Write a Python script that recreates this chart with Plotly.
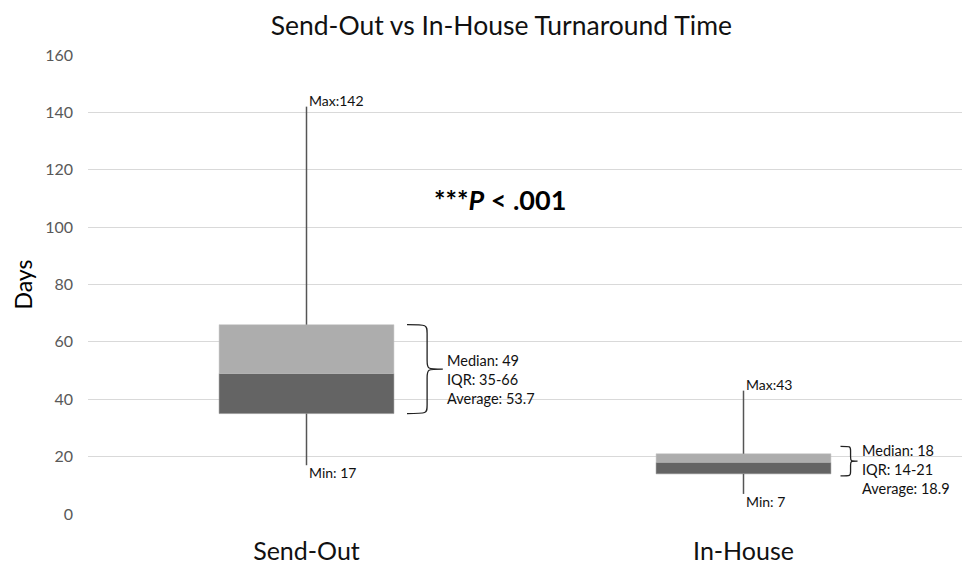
import plotly.graph_objects as go

categories = ["Send-Out", "In-House"]
mins = [17, 7]
q1s = [35, 14]
medians = [49, 18]
q3s = [66, 21]
maxs = [142, 43]
averages = [53.7, 18.9]
y_ticks = [0, 20, 40, 60, 80, 100, 120, 140, 160]
p_text = "***<i>P</i> < .001"

FONT = "Lato, Carlito, 'Open Sans', sans-serif"
xs = list(range(len(categories)))

fig = go.Figure()
# boxes: dark Q1->median, light median->Q3
fig.add_trace(go.Bar(x=xs, y=[m - q for m, q in zip(medians, q1s)], base=q1s,
                     width=0.4, marker=dict(color="#646464", line=dict(color="#8a8a8a", width=0.5)),
                     showlegend=False, hoverinfo="skip"))
fig.add_trace(go.Bar(x=xs, y=[q3 - m for q3, m in zip(q3s, medians)], base=medians,
                     width=0.4, marker=dict(color="#adadad", line=dict(color="#c0c0c0", width=0.5)),
                     showlegend=False, hoverinfo="skip"))

# whiskers
wx, wy = [], []
for i in xs:
    wx += [i, i, None, i, i, None]
    wy += [maxs[i], q3s[i], None, q1s[i], mins[i], None]
fig.add_trace(go.Scatter(x=wx, y=wy, mode="lines", line=dict(color="#555555", width=1.5),
                         showlegend=False, hoverinfo="skip"))

annotations = []
for i in xs:
    annotations.append(dict(x=i, y=maxs[i], xref="x", yref="y", text=f"Max:{maxs[i]}",
                            xanchor="left", yanchor="bottom", xshift=0, yshift=-4,
                            showarrow=False, font=dict(family=FONT, size=14, color="#111111")))
    annotations.append(dict(x=i, y=mins[i], xref="x", yref="y", text=f"Min: {mins[i]}",
                            xanchor="left", yanchor="top", xshift=0, yshift=3,
                            showarrow=False, font=dict(family=FONT, size=14, color="#111111")))

# braces
brace_cfg = [
    dict(x0=0.23, xv=0.276, xt=0.312, pad_lo=0, pad_hi=0, r=3.0, tshift=-10),
    dict(x0=0.222, xv=0.245, xt=0.261, pad_lo=0.7, pad_hi=2.6, r=1.5, tshift=-8),
]
shapes = []
for i, cfg in enumerate(brace_cfg):
    y0 = q1s[i] - cfg["pad_lo"]
    y1 = q3s[i] + cfg["pad_hi"]
    ym = (y0 + y1) / 2
    r = cfg["r"]
    X0, XV, XT = i + cfg["x0"], i + cfg["xv"], i + cfg["xt"]
    path = (f"M {X0},{y1} C {XV},{y1} {XV},{y1} {XV},{y1 - r} "
            f"L {XV},{ym + r} C {XV},{ym} {XV},{ym} {XT},{ym} "
            f"C {XV},{ym} {XV},{ym} {XV},{ym - r} "
            f"L {XV},{y0 + r} C {XV},{y0} {XV},{y0} {X0},{y0}")
    shapes.append(dict(type="path", path=path, xref="x", yref="y",
                       line=dict(color="#222222", width=1.3)))
    annotations.append(dict(x=XT, y=ym, xref="x", yref="y",
                            text=f"Median: {medians[i]}<br>IQR: {q1s[i]}-{q3s[i]}<br>Average: {averages[i]}",
                            xanchor="left", yanchor="middle", align="left", xshift=2, yshift=cfg["tshift"],
                            showarrow=False, font=dict(family=FONT, size=14.5, color="#111111")))

annotations.append(dict(x=0.443, y=109.5, xref="x", yref="y", text=f"<b>{p_text}</b>",
                        showarrow=False, font=dict(family=FONT, size=27, color="#000000")))

fig.update_layout(
    width=964, height=564,
    margin=dict(l=88, r=2, t=55, b=50, autoexpand=False),
    paper_bgcolor="white", plot_bgcolor="white",
    barmode="overlay",
    title=dict(text="Send-Out vs In-House Turnaround Time", x=0.52, xanchor="center",
               y=0.955, yanchor="middle", automargin=False,
               font=dict(family=FONT, size=26.5, color="#111111")),
    xaxis=dict(range=[-0.5, 1.5], tickvals=xs, ticktext=categories, showgrid=False, automargin=False,
               zeroline=False, showline=False, ticks="outside", ticklen=15, tickcolor="rgba(0,0,0,0)",
               tickfont=dict(family=FONT, size=25, color="#111111")),
    yaxis=dict(range=[0, 160], tickvals=y_ticks, showgrid=True, gridcolor="#d9d9d9", gridwidth=1,
               zeroline=False, showline=False, ticks="", ticklabelstandoff=14, automargin=False,
               tickfont=dict(family=FONT, size=16, color="#595959"),
               title=dict(text="Days", font=dict(family=FONT, size=23, color="#000000"), standoff=6)),
    shapes=shapes,
    annotations=annotations,
)

fig.write_html("out.html", config={"displayModeBar": False},
               post_script="document.body.style.margin='0px';document.body.style.overflow='hidden';")
